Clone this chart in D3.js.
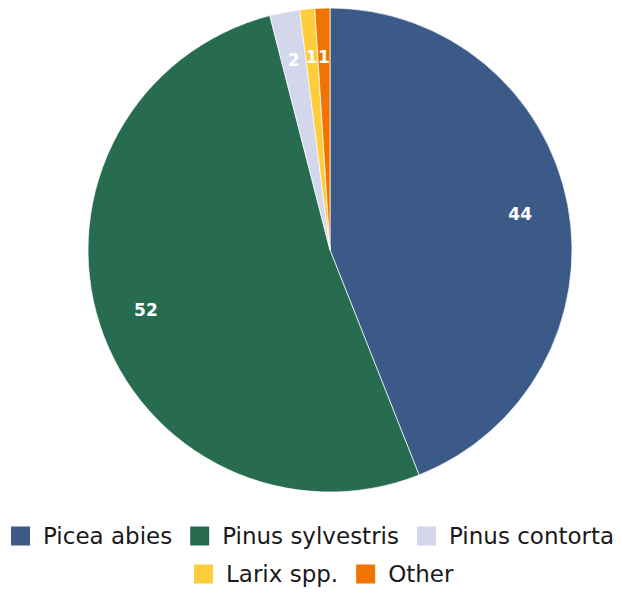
<!DOCTYPE html>
<html>
<head>
<meta charset="utf-8">
<script src="https://cdn.jsdelivr.net/npm/d3@7"></script>
<style>
  body { margin: 0; background: #fff; }
  svg { display: block; font-family: "DejaVu Sans", sans-serif; }
</style>
</head>
<body>
<svg id="chart" width="622" height="594"></svg>
<script>
// data
var especies = ["Picea abies", "Pinus sylvestris", "Pinus contorta", "Larix spp.", "Other"];
var valores = [44, 52, 2, 1, 1];
var colores = ["#3b5a88", "#276c50", "#d4d6ec", "#fdcd3e", "#f07400"];

var svg = d3.select("#chart");
var cx = 330, cy = 250, radio = 242;

var pie = d3.pie().sort(null).value(function (d) { return d; });
var arco = d3.arc().innerRadius(0).outerRadius(radio);
var arcoEtiqueta = d3.arc().innerRadius(radio * 0.8).outerRadius(radio * 0.8);

var g = svg.append("g").attr("transform", "translate(" + cx + "," + cy + ")");
var datos = pie(valores);

g.selectAll("path")
    .data(datos)
    .enter().append("path")
    .attr("d", arco)
    .attr("fill", function (d, i) { return colores[i]; })
    .attr("stroke", "#fff")
    .attr("stroke-width", 0.7);

g.selectAll("text.etq")
    .data(datos)
    .enter().append("text")
    .attr("class", "etq")
    .attr("transform", function (d) { return "translate(" + arcoEtiqueta.centroid(d) + ")"; })
    .attr("text-anchor", "middle")
    .attr("dy", "0.36em")
    .attr("fill", "#fff")
    .attr("font-weight", "bold")
    .attr("font-size", 17)
    .text(function (d) { return d.data; });

// leyenda
var filas = [[0, 1, 2], [3, 4]];
var inicioFila = [11, 194];
var yFila = [536, 574];
var lado = 19, sepTexto = 13, sepItem = 18;

filas.forEach(function (fila, f) {
    var x = inicioFila[f];
    fila.forEach(function (i) {
        var item = svg.append("g").attr("transform", "translate(" + x + "," + yFila[f] + ")");
        item.append("rect")
            .attr("x", 0).attr("y", -lado / 2)
            .attr("width", lado).attr("height", lado)
            .attr("fill", colores[i]);
        var t = item.append("text")
            .attr("x", lado + sepTexto)
            .attr("dy", "0.36em")
            .attr("font-size", 23)
            .attr("fill", "#1a1a1a")
            .text(especies[i]);
        x += lado + sepTexto + t.node().getComputedTextLength() + sepItem;
    });
});
</script>
</body>
</html>
